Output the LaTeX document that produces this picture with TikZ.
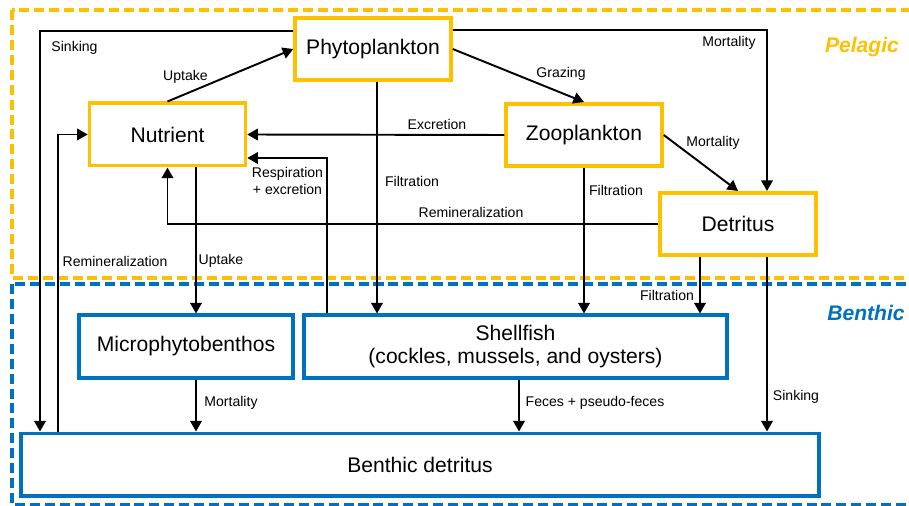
\documentclass[tikz,border=0pt]{standalone}
\usepackage{fontspec}
\setmainfont{Liberation Sans}
\usetikzlibrary{
    arrows.meta,
    positioning
}
\definecolor{pelagic gold}{HTML}{FFC000}
\definecolor{benthic blue}{HTML}{0070C0}
\tikzset{
    % Colors
    pelagic color/.style={draw=pelagic gold},
    benthic color/.style={draw=benthic blue},
    %
    % Zones
    zone/.style={line width=1.8pt, dash pattern=on 5.7pt off 2.8pt},
    zone label/.style={font=\fontsize{12}{14}\selectfont\bfseries\itshape},
    %
    % Compartments
    compartment/.style={draw, line width=2pt, fill=white, align=center,
        minimum width=3.12cm, minimum height=1.25cm,
        font=\fontsize{12}{13.6}\selectfont},
    pelagic box/.style={compartment, pelagic color},
    benthic box/.style={compartment, benthic color},
    %
    % Arrows and labels
    arrow tip/.tip={Triangle[length=6pt,width=6.5pt]},
    arr/.style={-{arrow tip}, line width=1.1pt},
    lbl/.style={font=\fontsize{8}{9.6}\selectfont, inner sep=1pt, align=center}
}

\begin{document}
\begin{tikzpicture}[x=0.02cm, y=-0.02cm]
    \useasboundingbox (0,0) rectangle (909,506);
    % zones
    \draw[zone, pelagic color] (12,10) rectangle (940,278);
    \draw[zone, benthic color] (12,284) rectangle (940,505);
    \node[zone label, text=pelagic gold] (pelagic) at (862,47) {Pelagic};
    \node[zone label, text=benthic blue] (benthic) at (866,313) {Benthic};

    % compartments
    \node[pelagic box] (Phyto) at (373,49) {Phytoplankton};
    \node[pelagic box] (Nutrient) at (167.5,134.5) {Nutrient};
    \node[pelagic box] (Zoo) at (584,135) {Zooplankton};
    \node[pelagic box] (Detritus) at (738,224) {Detritus};
    \node[benthic box, minimum width=4.28cm] (Micro) at (186,346.5) {Microphytobenthos};
    \node[benthic box, minimum width=8.46cm] (Shellfish) at (515.5,346.5)
        {Shellfish\\(cockles, mussels, and oysters)};
    \node[benthic box, minimum width=15.96cm] (BDetritus) at (420,464.5) {Benthic detritus};

    % fluxes
    \draw[arr] (Phyto.west |- 0,31) -| (BDetritus.north -| 40,0);
    \draw[arr] (Nutrient.north) -- (Phyto.west);
    \draw[arr] (BDetritus.north -| 58,0) |- (Nutrient.west);
    \draw[arr] (Zoo.west) -- (Nutrient.east);
    \draw[arr] (Shellfish.north -| 327,0) |- (Nutrient.east |- 0,158);
    \draw[arr] (Detritus.west) -| (Nutrient.south);
    \draw[arr] (Nutrient.south -| 196,0) -- (Micro.north -| 196,0);
    \draw[arr] (Phyto.south -| 377,0) -- (Shellfish.north -| 377,0);
    \draw[arr] (Phyto.east) -- (Zoo.north);
    \draw[arr] (Phyto.east |- 0,30) -| (Detritus.north -| 767,0);
    \draw[arr] (Zoo.east) -- (Detritus.north);
    \draw[arr] (Zoo.south) -- (Shellfish.north -| Zoo.south);
    \draw[arr] (Detritus.south -| 700,0) -- (Shellfish.north -| 700,0);
    \draw[arr] (Detritus.south -| 767,0) -- (BDetritus.north -| 767,0);
    \draw[arr] (Micro.south -| 196,0) -- (BDetritus.north -| 196,0);
    \draw[arr] (Shellfish.south -| 519,0) -- (BDetritus.north -| 519,0);

    % flux labels
    \node[lbl] (lSinkTop) at (74.5,48) {Sinking};
    \node[lbl] (lUptakeTop) at (185.5,77) {Uptake};
    \node[lbl] (lExcretion) at (437,124) {Excretion};
    \node[lbl] (lRespiration) at (287.5,181) {Respiration\\+ excretion};
    \node[lbl] (lFiltPhyto) at (412,181) {Filtration};
    \node[lbl] (lReminPel) at (471,212) {Remineralization};
    \node[lbl] (lReminBen) at (115,261) {Remineralization};
    \node[lbl] (lUptakeBen) at (221,261) {Uptake};
    \node[lbl] (lGrazing) at (561,74) {Grazing};
    \node[lbl] (lMortPhyto) at (729,43) {Mortality};
    \node[lbl] (lMortZoo) at (713,143) {Mortality};
    \node[lbl] (lFiltZoo) at (616,190) {Filtration};
    \node[lbl] (lFiltDet) at (667,295) {Filtration};
    \node[lbl] (lSinkDet) at (796,397) {Sinking};
    \node[lbl] (lMortMicro) at (231,403) {Mortality};
    \node[lbl] (lFeces) at (595,403) {Feces + pseudo-feces};
\end{tikzpicture}
\end{document}
